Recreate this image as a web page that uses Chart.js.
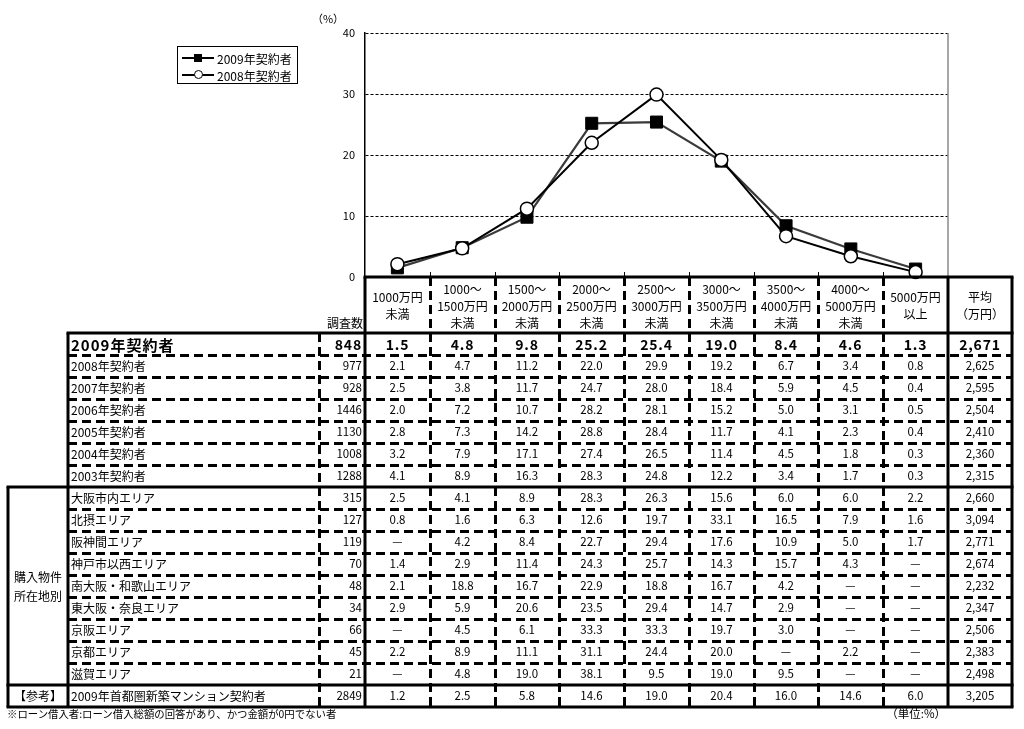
<!DOCTYPE html>
<html>
<head>
<meta charset="utf-8">
<script src="https://cdn.jsdelivr.net/npm/chart.js@4.4.0/dist/chart.umd.min.js"></script>
<style>
  html, body { margin: 0; padding: 0; background: #fff; }
  #wrap { position: relative; width: 1024px; height: 729px; overflow: hidden;
          font-family: 'Noto Sans CJK JP', 'Noto Sans', sans-serif; color: #000; }
  #chart { position: absolute; left: 0; top: 0; }
  #grid { position: absolute; left: 0; top: 0; z-index: 5; pointer-events: none; }
  .t { position: absolute; display: flex; align-items: center; white-space: nowrap; line-height: 1; }
  .hdr { flex-direction: column; justify-content: center; font-size: 12px; line-height: 17px; }
  #legend { position: absolute; left: 177px; top: 46px; width: 119px; height: 36px;
            border: 1px solid #000; font-size: 12px; background: #fff; }
  #legend .li { position: absolute; left: 4px; height: 16px; display: flex; align-items: center; }
  #legend .ls { position: relative; display: inline-block; width: 32px; height: 2px; background: #000; margin-right: 3px; }
  #legend .sq { position: absolute; left: 12px; top: -3px; width: 8px; height: 8px; background: #000; }
  #legend .ci { position: absolute; left: 12px; top: -4px; width: 7px; height: 7px; border: 1.5px solid #000;
                border-radius: 50%; background: #fff; }
</style>
</head>
<body>
<div id="wrap">
  <canvas id="chart" width="1024" height="729"></canvas>
  <canvas id="grid" width="1024" height="729"></canvas>
</div>
<script>
// Loan amount brackets (column headings, one entry per line)
const categories = [
  ['1000万円', '未満'],
  ['1000～', '1500万円', '未満'],
  ['1500～', '2000万円', '未満'],
  ['2000～', '2500万円', '未満'],
  ['2500～', '3000万円', '未満'],
  ['3000～', '3500万円', '未満'],
  ['3500～', '4000万円', '未満'],
  ['4000～', '5000万円', '未満'],
  ['5000万円', '以上']
];
const averageHeading = ['平均', '（万円）'];

// Share of buyers per bracket (%)
const series2009 = [1.5, 4.8, 9.8, 25.2, 25.4, 19.0, 8.4, 4.6, 1.3];
const series2008 = [2.1, 4.7, 11.2, 22.0, 29.9, 19.2, 6.7, 3.4, 0.8];
const yTicks = [0, 10, 20, 30, 40];

// Year-by-year rows
const yearLabels = ['2009年契約者', '2008年契約者', '2007年契約者', '2006年契約者', '2005年契約者', '2004年契約者', '2003年契約者'];
const yearCounts = [848, 977, 928, 1446, 1130, 1008, 1288];
const yearValues = [
  series2009,
  series2008,
  [2.5, 3.8, 11.7, 24.7, 28.0, 18.4, 5.9, 4.5, 0.4],
  [2.0, 7.2, 10.7, 28.2, 28.1, 15.2, 5.0, 3.1, 0.5],
  [2.8, 7.3, 14.2, 28.8, 28.4, 11.7, 4.1, 2.3, 0.4],
  [3.2, 7.9, 17.1, 27.4, 26.5, 11.4, 4.5, 1.8, 0.3],
  [4.1, 8.9, 16.3, 28.3, 24.8, 12.2, 3.4, 1.7, 0.3]
];
const yearAverages = [2671, 2625, 2595, 2504, 2410, 2360, 2315];

// Rows by property location (null = no respondents)
const areaGroup = ['購入物件', '所在地別'];
const areaLabels = ['大阪市内エリア', '北摂エリア', '阪神間エリア', '神戸市以西エリア', '南大阪・和歌山エリア',
                    '東大阪・奈良エリア', '京阪エリア', '京都エリア', '滋賀エリア'];
const areaCounts = [315, 127, 119, 70, 48, 34, 66, 45, 21];
const areaValues = [
  [2.5, 4.1, 8.9, 28.3, 26.3, 15.6, 6.0, 6.0, 2.2],
  [0.8, 1.6, 6.3, 12.6, 19.7, 33.1, 16.5, 7.9, 1.6],
  [null, 4.2, 8.4, 22.7, 29.4, 17.6, 10.9, 5.0, 1.7],
  [1.4, 2.9, 11.4, 24.3, 25.7, 14.3, 15.7, 4.3, null],
  [2.1, 18.8, 16.7, 22.9, 18.8, 16.7, 4.2, null, null],
  [2.9, 5.9, 20.6, 23.5, 29.4, 14.7, 2.9, null, null],
  [null, 4.5, 6.1, 33.3, 33.3, 19.7, 3.0, null, null],
  [2.2, 8.9, 11.1, 31.1, 24.4, 20.0, null, 2.2, null],
  [null, 4.8, 19.0, 38.1, 9.5, 19.0, 9.5, null, null]
];
const areaAverages = [2660, 3094, 2771, 2674, 2232, 2347, 2506, 2383, 2498];

// Reference row (Tokyo metropolitan area)
const refGroup = '【参考】';
const refLabel = '2009年首都圏新築マンション契約者';
const refCount = 2849;
const refValues = [1.2, 2.5, 5.8, 14.6, 19.0, 20.4, 16.0, 14.6, 6.0];
const refAverage = 3205;

const unitLabel = '（%）';
const footNote = '※ローン借入者:ローン借入総額の回答があり、かつ金額が0円でない者';
const unitNote = '（単位:%）';

// ---- table geometry (rows below the plot share its column grid) ----
const GROUP_L = 8, LABEL_L = 68, COUNT_L = 319, AVG_R = 1012;
const HEADER_B = 333, ROW_H = 22;
const FONT = "'Noto Sans CJK JP', 'Noto Sans', sans-serif";

function columnEdges(chart) {
  const xs = chart.scales.x, area = chart.chartArea;
  const edges = [area.left];
  for (let i = 1; i < categories.length; i++) {
    edges.push((xs.getPixelForValue(i - 1) + xs.getPixelForValue(i)) / 2);
  }
  edges.push(area.right);
  return edges.map(v => Math.round(v));
}

const chart = new Chart(document.getElementById('chart'), {
  type: 'line',
  data: {
    labels: categories.map(c => c.join('')),
    datasets: [
      { label: '2008年契約者', data: series2008, borderColor: '#000', borderWidth: 2,
        pointStyle: 'circle', pointRadius: 6.5, pointBackgroundColor: '#fff',
        pointBorderColor: '#000', pointBorderWidth: 1.5, tension: 0, clip: false },
      { label: '2009年契約者', data: series2009, borderColor: '#3a3a3a', borderWidth: 2.2,
        pointStyle: 'rect', pointRadius: 8.5, pointBackgroundColor: '#000',
        pointBorderColor: '#000', pointBorderWidth: 1, tension: 0, clip: false }
    ]
  },
  options: {
    responsive: false,
    animation: false,
    devicePixelRatio: 1,
    layout: { padding: { left: 325, right: 76, top: 33, bottom: 452 } },
    plugins: { legend: { display: false }, tooltip: { enabled: false } },
    scales: {
      x: {
        type: 'category', offset: true,
        grid: { display: false }, border: { display: false }, ticks: { display: false },
        afterFit(s) { s.height = 0; }
      },
      y: {
        min: 0, max: 40,
        afterFit(s) { s.width = 40; },
        afterBuildTicks(s) { s.ticks = yTicks.map(v => ({ value: v })); },
        ticks: { color: '#000', padding: 10, font: { size: 11, family: FONT } },
        grid: { drawTicks: false, lineWidth: 1,
                color: c => (c.tick && c.tick.value === 0) ? 'rgba(0,0,0,0)' : '#000' },
        border: { display: true, color: '#000', width: 1.5, dash: [3, 2] }
      }
    }
  }
});

const edges = columnEdges(chart);
const area = chart.chartArea;
const nRows = yearLabels.length + areaLabels.length + 1;
const rowY = i => HEADER_B + ROW_H * i;
const tableB = rowY(nRows);

// ---- frame, category ticks and table rules ----
const g = document.getElementById('grid').getContext('2d');
const DASH = 9, GAP = 5, DASH_W = 3;
function hDash(x1, x2, y) {
  for (let x = x1; x < x2; x += DASH + GAP) g.fillRect(x, y - 1, Math.min(DASH, x2 - x), DASH_W);
}
function vDash(x, y1, y2) {
  for (let y = y1; y < y2; y += DASH + GAP) g.fillRect(x - 1, y, DASH_W, Math.min(DASH, y2 - y));
}
function hSolid(x1, x2, y, w) { g.fillRect(x1, y - w / 2, x2 - x1, w); }
function vSolid(x, y1, y2, w) { g.fillRect(x - w / 2, y1, w, y2 - y1); }

// right edge of the plot
g.fillStyle = '#8a8a8a';
vSolid(area.right, area.top, area.bottom, 1.5);

g.fillStyle = '#000';
// inward category tick marks
for (let i = 1; i < edges.length - 1; i++) vSolid(edges[i] + 0.5, area.bottom - 5, area.bottom, 1);

// dashed inner rules
for (let i = 1; i < nRows - 1; i++) {
  if (i !== yearLabels.length) hDash(LABEL_L, AVG_R, rowY(i));
}
vDash(COUNT_L, HEADER_B, tableB);
for (let i = 1; i < edges.length - 1; i++) vDash(edges[i], area.bottom, tableB);

// heavy rules
const L = edges[0], R = edges[edges.length - 1];
hSolid(L - 1.5, AVG_R + 1.5, area.bottom, 3);
hSolid(LABEL_L - 1.5, AVG_R + 1.5, HEADER_B, 3);
hSolid(GROUP_L - 1.5, AVG_R + 1.5, rowY(yearLabels.length), 3);
hSolid(GROUP_L - 1.5, AVG_R + 1.5, rowY(nRows - 1), 3);
hSolid(GROUP_L - 1.5, AVG_R + 1.5, tableB, 3);
vSolid(GROUP_L, rowY(yearLabels.length), tableB, 3);
vSolid(LABEL_L, HEADER_B, tableB, 3);
vSolid(L, area.bottom, tableB, 3);
vSolid(R, area.bottom, tableB, 3);
vSolid(AVG_R, area.bottom, tableB, 3);

// ---- text layer ----
const wrap = document.getElementById('wrap');
function put(x1, y1, x2, y2, html, css) {
  const d = document.createElement('div');
  d.className = 't';
  d.style.left = x1 + 'px';
  d.style.top = y1 + 'px';
  d.style.width = (x2 - x1) + 'px';
  d.style.height = (y2 - y1) + 'px';
  d.style.justifyContent = 'center';
  Object.assign(d.style, css || {});
  d.innerHTML = html;
  wrap.appendChild(d);
  return d;
}
const fmtPct = v => v === null ? '—' : v.toFixed(1);
const fmtAvg = v => v.toLocaleString('en-US');

put(300, 10, 356, 26, unitLabel, { fontSize: '11px' });

// column headings
categories.forEach((lines, i) => {
  const d = put(edges[i], area.bottom, edges[i + 1], HEADER_B, lines.map(s => '<div>' + s + '</div>').join(''));
  d.classList.add('hdr');
});
put(edges[edges.length - 1], area.bottom, AVG_R, HEADER_B,
    averageHeading.map(s => '<div>' + s + '</div>').join('')).classList.add('hdr');
put(COUNT_L, 313, COUNT_L + 44, 333, '調査数', { justifyContent: 'flex-end', fontSize: '12px' });

// body rows
const rows = [];
yearLabels.forEach((lab, i) => rows.push({ label: lab, count: yearCounts[i], values: yearValues[i], avg: yearAverages[i], bold: i === 0 }));
areaLabels.forEach((lab, i) => rows.push({ label: lab, count: areaCounts[i], values: areaValues[i], avg: areaAverages[i] }));
rows.push({ label: refLabel, count: refCount, values: refValues, avg: refAverage });

rows.forEach((r, i) => {
  const y1 = rowY(i), y2 = y1 + ROW_H;
  const numCss = r.bold ? { fontSize: '14px', fontWeight: '700', letterSpacing: '0.8px' } : { fontSize: '11.5px' };
  const labCss = r.bold ? { fontSize: '15px', fontWeight: '700', letterSpacing: '1px' } : { fontSize: '12px' };
  put(LABEL_L + 3, y1, COUNT_L, y2, r.label, Object.assign({ justifyContent: 'flex-start' }, labCss));
  put(COUNT_L, y1, edges[0] - 3, y2, String(r.count), Object.assign({ justifyContent: 'flex-end' }, numCss));
  r.values.forEach((v, j) => put(edges[j], y1, edges[j + 1], y2, fmtPct(v), numCss));
  put(edges[edges.length - 1], y1, AVG_R, y2, fmtAvg(r.avg), numCss);
});

// group captions
const areaTop = rowY(yearLabels.length);
const areaBottom = rowY(yearLabels.length + areaLabels.length);
put(GROUP_L, areaTop, LABEL_L, areaBottom, areaGroup.map(s => '<div>' + s + '</div>').join(''),
    { flexDirection: 'column', fontSize: '12px', lineHeight: '19px' });
put(GROUP_L, areaBottom, LABEL_L, areaBottom + ROW_H, refGroup, { fontSize: '12px' });

// notes
put(7, 706, 500, 722, footNote, { justifyContent: 'flex-start', fontSize: '10.4px' });
put(860, 706, 946, 722, unitNote, { justifyContent: 'flex-end', fontSize: '11.5px' });

// legend
const legend = document.createElement('div');
legend.id = 'legend';
const legendItems = [
  { label: chart.data.datasets[1].label, mark: 'sq' },
  { label: chart.data.datasets[0].label, mark: 'ci' }
];
legendItems.forEach((it, i) => {
  const li = document.createElement('div');
  li.className = 'li';
  li.style.top = (3 + i * 17) + 'px';
  li.innerHTML = '<span class="ls"><i class="' + it.mark + '"></i></span>' + it.label;
  legend.appendChild(li);
});
wrap.appendChild(legend);
</script>
</body>
</html>
